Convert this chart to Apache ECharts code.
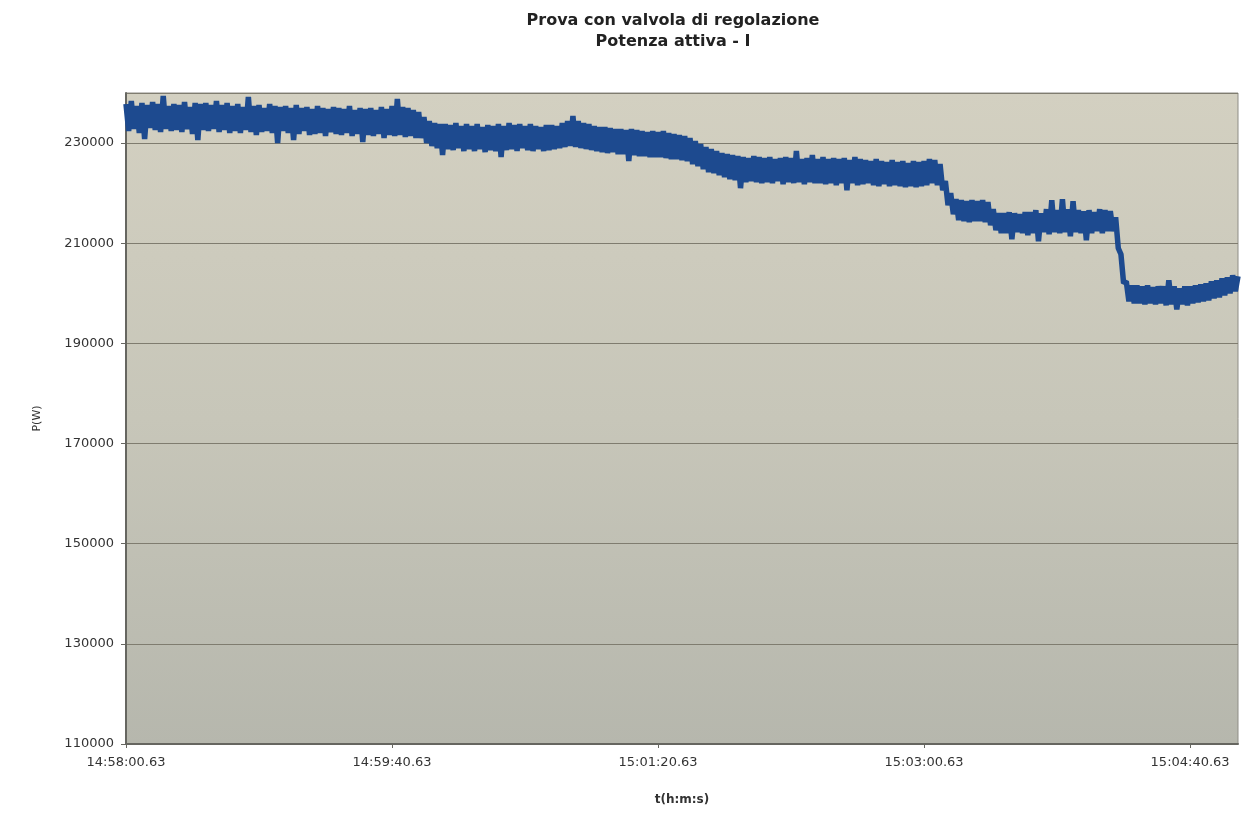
<!DOCTYPE html>
<html>
<head>
<meta charset="utf-8">
<script src="https://cdn.jsdelivr.net/npm/echarts@6/dist/echarts.min.js"></script>
<style>
html,body{margin:0;padding:0;background:#ffffff;}
#chart{width:1244px;height:816px;}
</style>
</head>
<body>
<div id="chart"></div>
<script>
// Time axis: seconds elapsed since 14:58:00.63, one sample per second
const tickLabels = ['14:58:00.63', '14:59:40.63', '15:01:20.63', '15:03:00.63', '15:04:40.63'];
const tickStep = 100; // seconds between labelled ticks

// Active power P (W), one value per second (t = 0 .. 418 s)
const powerW = [
  237800, 232400, 238400, 232800, 237400, 232000, 238000, 230800, 237600, 233000,
  238200, 232600, 237800, 232200, 239400, 232800, 237400, 232400, 237800, 232600,
  237600, 232200, 238200, 232800, 237200, 231800, 238000, 230600, 237800, 232600,
  238000, 232400, 237600, 232800, 238400, 232200, 237600, 232600, 238000, 232000,
  237400, 232400, 237800, 232000, 237200, 232600, 239200, 232200, 237400, 231600,
  237600, 232200, 237000, 232400, 237800, 232000, 237400, 230000, 237200, 232400,
  237400, 232000, 237000, 230600, 237600, 231800, 237000, 232400, 237200, 231600,
  236800, 231800, 237400, 232000, 237000, 231400, 236800, 232200, 237200, 231800,
  237000, 231600, 236800, 232000, 237400, 231400, 236600, 231800, 237000, 230200,
  236800, 231600, 237000, 231400, 236600, 231800, 237200, 231000, 236800, 231600,
  237400, 231400, 238800, 231600, 237200, 231200, 237000, 231400, 236600, 231000,
  236200, 231000, 235200, 230000, 234400, 229400, 234000, 229000, 233800, 227600,
  233800, 228800, 233600, 228600, 234000, 229000, 233400, 228400, 233800, 228800,
  233400, 228400, 233800, 228800, 233200, 228200, 233600, 228600, 233400, 228400,
  233800, 227200, 233400, 228600, 234000, 228800, 233600, 228400, 233800, 229000,
  233400, 228600, 233800, 228400, 233400, 228800, 233200, 228400, 233600, 228600,
  233600, 228800, 233400, 229000, 234000, 229200, 234400, 229400, 235400, 229200,
  234400, 229000, 234000, 228800, 233800, 228600, 233400, 228400, 233200, 228200,
  233200, 228000, 233000, 228200, 232800, 227800, 232800, 227800, 232600, 226400,
  232800, 227600, 232600, 227400, 232400, 227400, 232200, 227200, 232400, 227200,
  232200, 227200, 232400, 227000, 232000, 226800, 231800, 226800, 231600, 226600,
  231400, 226400, 231000, 225800, 230400, 225400, 229800, 224800, 229200, 224200,
  228800, 224000, 228400, 223600, 228000, 223200, 227800, 222800, 227600, 222600,
  227400, 221000, 227200, 222200, 227000, 222400, 227400, 222200, 227200, 222000,
  227000, 222200, 227200, 222000, 226800, 222400, 227000, 221800, 227200, 222200,
  227000, 222000, 228400, 222200, 226800, 221800, 227000, 222200, 227600, 222000,
  226800, 222000, 227200, 221800, 226800, 222000, 227000, 221600, 226800, 222000,
  227000, 220600, 226600, 222000, 227200, 221600, 226800, 221800, 226600, 222000,
  226400, 221600, 226800, 221400, 226400, 221800, 226200, 221400, 226600, 221600,
  226200, 221400, 226400, 221200, 226000, 221400, 226400, 221200, 226200, 221400,
  226400, 221600, 226800, 222000, 226600, 221600, 225800, 220600, 222400, 217600,
  220000, 215800, 218800, 214600, 218600, 214400, 218400, 214200, 218600, 214400,
  218400, 214400, 218600, 214200, 218200, 213600, 216800, 212600, 216000, 212000,
  216000, 212000, 216200, 210800, 216000, 212200, 215800, 212000, 216200, 211600,
  216200, 212000, 216600, 210400, 216000, 212200, 216800, 211800, 218600, 212200,
  216600, 212000, 218800, 212200, 216800, 211400, 218400, 212200, 216600, 212000,
  216400, 210600, 216600, 212000, 216200, 212400, 216800, 212000, 216600, 212400,
  216400, 212400, 215200, 209000, 207800, 202000, 202400, 198400, 201600, 198000,
  201600, 198000, 201400, 197800, 201600, 198000, 201200, 197800, 201400, 198000,
  201400, 197600, 202600, 197800, 201400, 196800, 201000, 197800, 201400, 197600,
  201400, 198000, 201600, 198200, 201800, 198400, 202000, 198600, 202400, 199000,
  202600, 199200, 203000, 199600, 203200, 200000, 203600, 200400, 203400
];

const seriesData = powerW.map((v, i) => [i, v]);

const chart = echarts.init(document.getElementById('chart'), null, {renderer: 'canvas'});
const fontFam = '"DejaVu Sans", "Liberation Sans", Arial, sans-serif';

chart.setOption({
  animation: false,
  backgroundColor: '#ffffff',
  title: {
    text: 'Prova con valvola di regolazione',
    subtext: 'Potenza attiva - I',
    left: 668,
    top: 8,
    textAlign: 'center',
    itemGap: 5,
    textStyle: {fontFamily: fontFam, fontSize: 16, fontWeight: 'bold', color: '#222222'},
    subtextStyle: {fontFamily: fontFam, fontSize: 16, fontWeight: 'bold', color: '#222222'}
  },
  grid: {
    left: 126, right: 6, top: 93, bottom: 72,
    show: true,
    backgroundColor: new echarts.graphic.LinearGradient(0, 0, 0, 1, [
      {offset: 0, color: '#d3d0c1'},
      {offset: 0.5, color: '#c7c6b9'},
      {offset: 1, color: '#b6b7ad'}
    ]),
    borderColor: '#8e8d86',
    borderWidth: 1
  },
  xAxis: {
    type: 'value',
    min: 0,
    max: 418,
    interval: tickStep,
    name: 't(h:m:s)',
    nameLocation: 'middle',
    nameGap: 50,
    nameTextStyle: {fontFamily: fontFam, fontSize: 12, fontWeight: 'bold', color: '#333333'},
    axisLine: {show: true, lineStyle: {color: '#666660', width: 2}},
    axisTick: {show: true, length: 4, lineStyle: {color: '#666660'}},
    splitLine: {show: false},
    axisLabel: {
      fontFamily: fontFam, fontSize: 13, color: '#333333', margin: 12,
      showMaxLabel: false,
      formatter: function (v) {
        const idx = Math.round(v / tickStep);
        return (v % tickStep === 0 && tickLabels[idx]) ? tickLabels[idx] : '';
      }
    }
  },
  yAxis: {
    type: 'value',
    min: 110000,
    max: 240000,
    interval: 20000,
    name: 'P(W)',
    nameLocation: 'middle',
    nameGap: 83,
    nameRotate: 90,
    nameTextStyle: {fontFamily: fontFam, fontSize: 11, color: '#333333'},
    axisLine: {show: true, lineStyle: {color: '#666660', width: 2}},
    axisTick: {show: true, length: 5, lineStyle: {color: '#666660'}},
    splitLine: {show: true, lineStyle: {color: '#7f7c6f', width: 1}},
    axisLabel: {
      fontFamily: fontFam, fontSize: 13, color: '#333333', margin: 12,
      showMaxLabel: false,
      formatter: function (v) { return v === 240000 ? '' : String(v); }
    }
  },
  series: [{
    type: 'line',
    data: seriesData,
    showSymbol: false,
    sampling: 'none',
    lineStyle: {color: '#1d4a8f', width: 5.5, join: 'bevel'},
    itemStyle: {color: '#1d4a8f'}
  }]
});
</script>
</body>
</html>
